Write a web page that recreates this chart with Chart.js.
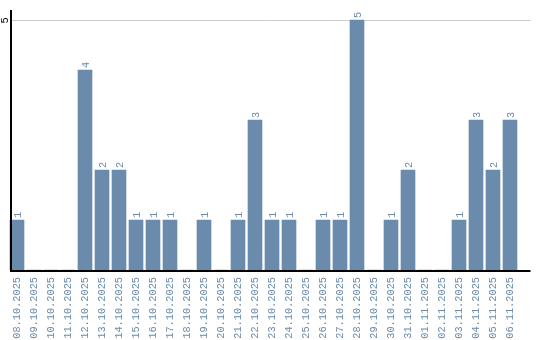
<!DOCTYPE html>
<html>
<head>
<meta charset="utf-8">
<script src="https://cdn.jsdelivr.net/npm/chart.js@4"></script>
<style>
  html, body { margin: 0; padding: 0; background: #fff; }
  #wrap { width: 540px; height: 340px; }
</style>
</head>
<body>
<div id="wrap"><canvas id="dayChart"></canvas></div>
<script>
// Count per day
const days = [
    '08.10.2025', '09.10.2025', '10.10.2025', '11.10.2025', '12.10.2025',
    '13.10.2025', '14.10.2025', '15.10.2025', '16.10.2025', '17.10.2025',
    '18.10.2025', '19.10.2025', '20.10.2025', '21.10.2025', '22.10.2025',
    '23.10.2025', '24.10.2025', '25.10.2025', '26.10.2025', '27.10.2025',
    '28.10.2025', '29.10.2025', '30.10.2025', '31.10.2025', '01.11.2025',
    '02.11.2025', '03.11.2025', '04.11.2025', '05.11.2025', '06.11.2025'
];
const counts = [1, 0, 0, 0, 4, 2, 2, 1, 1, 1, 0, 1, 0, 1, 3, 1, 1, 0, 1, 1, 5, 0, 1, 2, 0, 0, 1, 3, 2, 3];
const yTicks = [5];

const barColor = '#6a8bac';
const textColor = '#6a8bac';
const monoFamily = '"Liberation Mono", monospace';
const monoFont = '10.3px ' + monoFamily;

// Axis lines, the single grid line, the y tick and the value labels
const axisPlugin = {
    id: 'axisPlugin',
    beforeDatasetsDraw(chart) {
        const { ctx, chartArea, scales } = chart;
        const right = chartArea.right + 12;
        ctx.save();
        ctx.strokeStyle = '#cccccc';
        ctx.lineWidth = 1;
        yTicks.forEach(v => {
            const py = Math.round(scales.y.getPixelForValue(v)) + 0.5;
            ctx.beginPath();
            ctx.moveTo(10, py);
            ctx.lineTo(right, py);
            ctx.stroke();

            ctx.save();
            ctx.translate(8, py);
            ctx.rotate(-Math.PI / 2);
            ctx.fillStyle = '#000';
            ctx.font = monoFont;
            ctx.textAlign = 'center';
            ctx.textBaseline = 'alphabetic';
            ctx.fillText(String(v), 0, 0);
            ctx.restore();
        });
        ctx.restore();
    },
    afterDraw(chart) {
        const { ctx, chartArea, scales } = chart;
        const y0 = scales.y.getPixelForValue(0);
        ctx.save();
        ctx.strokeStyle = '#000';
        ctx.lineWidth = 2;
        ctx.beginPath();
        ctx.moveTo(11, chartArea.top);
        ctx.lineTo(11, y0 + 1);
        ctx.moveTo(10, y0 + 1);
        ctx.lineTo(chartArea.right + 12, y0 + 1);
        ctx.stroke();

        // value labels above the bars
        ctx.fillStyle = textColor;
        ctx.font = monoFont;
        ctx.textAlign = 'left';
        ctx.textBaseline = 'alphabetic';
        chart.getDatasetMeta(0).data.forEach((bar, i) => {
            if (!counts[i]) return;
            ctx.save();
            ctx.translate(bar.x, bar.y - 2);
            ctx.rotate(-Math.PI / 2);
            ctx.fillText(String(counts[i]), 0, 3.5);
            ctx.restore();
        });
        ctx.restore();
    }
};

const ctx = document.getElementById('dayChart').getContext('2d');
const chart = new Chart(ctx, {
    type: 'bar',
    data: {
        labels: days,
        datasets: [{
            data: counts,
            backgroundColor: barColor,
            borderWidth: 0,
            barThickness: 14
        }]
    },
    options: {
        responsive: true,
        maintainAspectRatio: false,
        animation: false,
        layout: { padding: { left: 8.5, right: 21.5, top: 10, bottom: 0 } },
        plugins: {
            legend: { display: false },
            tooltip: { enabled: false }
        },
        scales: {
            x: {
                grid: { display: false, drawTicks: false },
                border: { display: false },
                afterFit(scale) { scale.height = 70; },
                ticks: {
                    autoSkip: false,
                    minRotation: 90,
                    maxRotation: 90,
                    padding: 7,
                    color: textColor,
                    font: { family: monoFamily, size: 10.3 }
                }
            },
            y: {
                display: false,
                min: 0,
                max: 5.2
            }
        }
    },
    plugins: [axisPlugin]
});
</script>
</body>
</html>
